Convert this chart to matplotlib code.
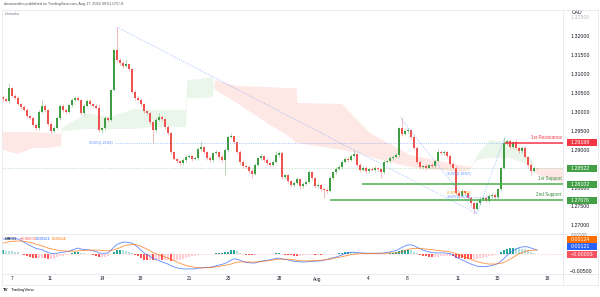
import numpy as np
import matplotlib
matplotlib.use("Agg")
import matplotlib.pyplot as plt
from matplotlib.patches import Rectangle
from matplotlib.lines import Line2D
from matplotlib.transforms import blended_transform_factory

plt.rcParams.update({"font.family": ["Liberation Sans", "DejaVu Sans"]})

# ---------------- data (4h candles, USDCAD) ----------------
OPEN_FIRST = 1.3040
CLOSES = [
    1.3035, 1.3030, 1.3064, 1.3043, 1.3038, 1.3022, 1.3014, 1.3006, 1.2990, 1.2985,
    1.2966, 1.2958, 1.3001, 1.3017, 1.3006, 1.2969, 1.2951, 1.2958, 1.2985, 1.3017,
    1.3006, 1.3001, 1.3019, 1.3032, 1.3038, 1.3032, 1.2998, 1.3017, 1.3030, 1.3022,
    1.3017, 1.3011, 1.2953, 1.2958, 1.2985, 1.2980, 1.3059, 1.3164, 1.3138, 1.3130,
    1.3122, 1.3127, 1.3114, 1.3054, 1.3038, 1.3032, 1.3022, 1.3003, 1.2998, 1.2974,
    1.2953, 1.2980, 1.2988, 1.2982, 1.2961, 1.2945, 1.2895, 1.2877, 1.2871, 1.2866,
    1.2874, 1.2882, 1.2885, 1.2877, 1.2879, 1.2903, 1.2908, 1.2895, 1.2879, 1.2874,
    1.2892, 1.2895, 1.2882, 1.2874, 1.2900, 1.2935, 1.2937, 1.2921, 1.2895, 1.2869,
    1.2858, 1.2856, 1.2845, 1.2837, 1.2861, 1.2879, 1.2885, 1.2874, 1.2866, 1.2861,
    1.2869, 1.2887, 1.2892, 1.2829, 1.2834, 1.2818, 1.2808, 1.2813, 1.2824, 1.2805,
    1.2811, 1.2816, 1.2842, 1.2826, 1.2805, 1.2808, 1.2797, 1.2795, 1.2792, 1.2826,
    1.2842, 1.2850, 1.2856, 1.2869, 1.2877, 1.2874, 1.2885, 1.2890, 1.2861, 1.2848,
    1.2853, 1.2845, 1.2850, 1.2848, 1.2853, 1.2850, 1.2842, 1.2869, 1.2871, 1.2879,
    1.2882, 1.2887, 1.2958, 1.2943, 1.2951, 1.2953, 1.2935, 1.2906, 1.2869, 1.2856,
    1.2858, 1.2853, 1.2861, 1.2858, 1.2871, 1.2895, 1.2892, 1.2895, 1.2885, 1.2863,
    1.2853, 1.2787, 1.2779, 1.2792, 1.2787, 1.2774, 1.2760, 1.2745, 1.2760, 1.2771,
    1.2774, 1.2766, 1.2779, 1.2782, 1.2776, 1.2797, 1.2853, 1.2919, 1.2924, 1.2908,
    1.2921, 1.2906, 1.2898, 1.2906, 1.2882, 1.2861, 1.2845, 1.2853, 1.28522,
]
# wick lengths in pips above the body top / below the body bottom
WICK_UP = [
    3, 4, 13, 3, 4, 5, 3, 4, 6, 3,
    4, 3, 5, 16, 4, 3, 4, 5, 6, 4,
    5, 3, 4, 6, 4, 5, 3, 4, 6, 4,
    3, 5, 10, 4, 5, 3, 2, 2, 61, 6,
    5, 14, 4, 3, 5, 4, 6, 3, 4, 3,
    4, 5, 10, 4, 3, 5, 3, 4, 3, 4,
    5, 4, 6, 3, 5, 4, 15, 3, 4, 5,
    4, 6, 3, 4, 5, 4, 8, 4, 3, 5,
    4, 3, 5, 4, 6, 4, 5, 3, 4, 3,
    4, 12, 5, 5, 4, 3, 4, 5, 6, 3,
    4, 5, 6, 4, 3, 5, 4, 3, 4, 5,
    4, 6, 4, 5, 4, 6, 5, 10, 3, 4,
    5, 4, 3, 5, 4, 3, 4, 5, 4, 6,
    4, 5, 3, 29, 5, 6, 4, 3, 4, 5,
    4, 6, 3, 5, 4, 8, 6, 5, 4, 5,
    5, 4, 6, 5, 4, 3, 4, 3, 5, 6,
    4, 5, 6, 4, 5, 4, 3, 16, 6, 5,
    4, 8, 5, 6, 4, 3, 4, 5, 3,
]
WICK_DN = [
    4, 3, 5, 4, 3, 4, 5, 3, 4, 6,
    3, 5, 4, 3, 5, 4, 6, 4, 3, 5,
    4, 6, 3, 4, 5, 3, 6, 4, 3, 5,
    4, 3, 5, 8, 4, 6, 3, 2, 4, 5,
    4, 3, 5, 4, 6, 3, 5, 4, 6, 4,
    34, 4, 3, 5, 4, 6, 5, 4, 5, 6,
    4, 5, 3, 6, 4, 5, 4, 6, 5, 4,
    5, 3, 6, 4, 40, 4, 3, 5, 4, 6,
    5, 4, 6, 10, 3, 4, 5, 4, 6, 5,
    4, 3, 5, 4, 6, 5, 4, 6, 3, 8,
    5, 4, 3, 6, 5, 4, 6, 21, 4, 3,
    5, 4, 3, 5, 4, 6, 3, 4, 5, 6,
    4, 5, 6, 4, 5, 6, 15, 4, 3, 5,
    4, 3, 4, 5, 4, 6, 5, 4, 6, 5,
    6, 5, 4, 6, 4, 3, 5, 4, 6, 5,
    4, 5, 6, 4, 5, 6, 5, 13, 4, 5,
    6, 4, 5, 6, 4, 5, 4, 3, 5, 6,
    5, 4, 6, 5, 4, 6, 10, 4, 3,
]
# MACD (12, 26, 9) values in units of 1e-4
MACD_LINE = [
    44, 44, 46, 46, 45, 44, 40, 35, 30, 25, 21,
    17, 15, 13, 9, 5, 3, 2, 3, 5, 6,
    7, 9, 12, 15, 18, 15, 14, 13, 12, 10,
    8, 4, 3, 3, 4, 12, 21, 28, 32, 35,
    35, 34, 32, 27, 20, 12, 4, -1, -6, -12,
    -15, -18, -22, -25, -28, -33, -36, -39, -41, -42,
    -42, -42, -42, -42, -40, -39, -38, -38, -37, -36,
    -33, -31, -29, -26, -22, -17, -13, -14, -17, -21,
    -23, -24, -25, -25, -22, -20, -18, -17, -16, -14,
    -12, -11, -13, -15, -16, -18, -20, -21, -22, -22,
    -22, -21, -20, -20, -19, -19, -17, -15, -12, -10,
    -8, -5, -2, 2, 5, 6, 6, 5, 4, 4,
    3, 3, 3, 3, 3, 3, 4, 5, 7, 9,
    11, 15, 20, 24, 27, 27, 25, 20, 16, 12,
    9, 7, 5, 4, 4, 4, 4, 3, 2, -1,
    -8, -12, -16, -20, -24, -28, -31, -34, -35, -35,
    -35, -34, -32, -30, -26, -20, -12, -3, 4, 10,
    15, 19, 21, 22, 21, 18, 15, 12.1,
]
SIGNAL_LINE = [
    32, 34, 36, 37, 38, 38, 38, 37, 36, 34, 32,
    29, 27, 24, 21, 18, 16, 14, 12, 11, 10,
    9, 9, 9, 9, 10, 11, 11, 12, 12, 12,
    12, 12, 11, 10, 10, 11, 13, 16, 19, 23,
    26, 27, 28, 28, 26, 23, 19, 15, 10, 5,
    2, -2, -5, -8, -11, -14, -18, -22, -26, -29,
    -32, -34, -36, -37, -38, -39, -39, -38, -38, -37,
    -36, -35, -33, -32, -30, -28, -25, -23, -22, -22,
    -22, -22, -22, -22, -22, -21, -20, -19, -18, -16,
    -15, -14, -14, -14, -14, -15, -16, -17, -18, -19,
    -19, -19, -19, -18, -18, -17, -16, -15, -14, -12,
    -10, -9, -7, -5, -3, -1, 0, 1, 2, 2,
    2, 2, 2, 2, 3, 3, 3, 3, 4, 4,
    4, 5, 8, 11, 14, 16, 17, 17, 17, 16,
    15, 14, 13, 12, 11, 10, 9, 8, 7, 5,
    2, -1, -4, -7, -11, -14, -18, -21, -23, -25,
    -27, -28, -28, -28, -27, -26, -23, -19, -14, -9,
    -4, 1, 5, 8, 10, 11, 12, 12.4,
]
# Ichimoku cloud (senkou span A / B) read at bar positions
CLOUD_X = [0, 5, 10, 15, 19.3, 19.7, 28, 35.7, 43.7, 49.7, 61, 61.4, 65.7, 70, 70.7,
           78, 88, 94.7, 97.8, 98.2, 113, 118, 122.3, 135.7, 152.3, 155.7, 158,
           162.3, 169, 176.5, 177, 178.3, 186.7]
SPAN_A = [1.29004, 1.28898, 1.29056, 1.29056, 1.29109, 1.29584, 1.29980, 1.29875,
          1.30086, 1.30060, 1.30060, 1.30852, 1.30878, 1.30931, 1.30588, 1.30244,
          1.29716, 1.29400, 1.29188, 1.29188, 1.29004, 1.28924, 1.28819, 1.28555,
          1.28423, 1.28476, 1.28872, 1.29268, 1.29214, 1.28740, 1.28476, 1.28344,
          1.28132]
SPAN_B = [1.29479, 1.29479, 1.29479, 1.29452, 1.29426, 1.29505, 1.29558, 1.29558,
          1.29558, 1.29611, 1.29611, 1.30376, 1.30376, 1.30403, 1.30852, 1.30693,
          1.30667, 1.30641, 1.30641, 1.30244, 1.30218, 1.29796, 1.29452, 1.28872,
          1.28608, 1.28555, 1.28740, 1.28792, 1.28792, 1.28581, 1.28528, 1.28528,
          1.28528]

TICK_POS = [3, 15.7, 33, 45.7, 62.3, 75, 92.3, 104.7, 121.7, 134.7, 151.7, 164.7, 181.3]
TICK_LABELS = ['7', '11', '14', '18', '21', '25', '28', 'Aug', '4', '8', '11', '15', '18']
PRICE_TICKS = [1.270, 1.275, 1.280, 1.285, 1.290, 1.295, 1.300, 1.305, 1.310, 1.315, 1.320]

RESISTANCE_1 = 1.29198
SUPPORT_1 = 1.28102
SUPPORT_2 = 1.27676
FIB_LEVEL = 1.29182
# drawn trend lines: (bar, price) -> (bar, price)
TREND_LINES = [((38, 1.3225), (158, 1.2732)),
               ((132.3, 1.2987), (158, 1.2732)),
               ((158, 1.2732), (167.3, 1.2935))]

assert len(CLOSES) == len(WICK_UP) == len(WICK_DN) == len(MACD_LINE) == len(SIGNAL_LINE)
assert len(CLOUD_X) == len(SPAN_A) == len(SPAN_B)

GREEN = '#3f9e43'
RED = '#ef5350'
BLUE = '#2962ff'
ORANGE = '#ff6d00'
TXT = '#131722'
GRID = '#e0e3eb'

W, H = 600, 297
fig = plt.figure(figsize=(6, 2.97), dpi=100)
fig.patch.set_facecolor('white')


def fx(px):
    return px / W


def fy(py):
    return 1 - py / H


XLIM = (-0.33, 186.67)
PLIM = (1.26786, 1.32700)
MLIM = (-0.00566, 0.00583)

ax = fig.add_axes([fx(2), fy(234), fx(563) - fx(2), fy(10) - fy(234)])
ax_p = fig.add_axes([fx(563), fy(234), fx(600) - fx(563), fy(10) - fy(234)])
ax_m = fig.add_axes([fx(2), fy(274), fx(563) - fx(2), fy(234) - fy(274)])
ax_mp = fig.add_axes([fx(563), fy(274), fx(600) - fx(563), fy(234) - fy(274)])
for a in (ax, ax_m):
    a.set_xlim(*XLIM)
    a.axis('off')
for a in (ax_p, ax_mp):
    a.set_xlim(0, 1)
    a.axis('off')
ax.set_ylim(*PLIM)
ax_p.set_ylim(*PLIM)
ax_m.set_ylim(*MLIM)
ax_mp.set_ylim(*MLIM)

# ---------------- ichimoku cloud ----------------
cx = np.array(CLOUD_X)
sa = np.array(SPAN_A)
sb = np.array(SPAN_B)
ax.fill_between(cx, sa, sb, where=sa >= sb, interpolate=True, color='#4caf50', alpha=0.11, lw=0, zorder=1)
ax.fill_between(cx, sa, sb, where=sa < sb, interpolate=True, color='#f44336', alpha=0.12, lw=0, zorder=1)

# ---------------- candles ----------------
closes = np.array(CLOSES)
opens = np.concatenate([[OPEN_FIRST], closes[:-1]])
idx = np.arange(len(closes))
tops = np.maximum(opens, closes)
bots = np.minimum(opens, closes)
highs = tops + np.array(WICK_UP) * 1e-4
lows = bots - np.array(WICK_DN) * 1e-4
cols = np.where(closes >= opens, GREEN, RED)
ax.vlines(idx, lows, highs, colors=cols, lw=0.6, alpha=0.45, zorder=3)
ax.bar(idx, np.maximum(tops - bots, 0.00007), bottom=bots, width=0.75, color=cols, lw=0, zorder=4)

# current price line
ax.axhline(closes[-1], color=GREEN, lw=0.5, ls=(0, (2, 2)), alpha=0.4, zorder=2)

# ---------------- drawings ----------------
for (x0, y0), (x1, y1) in TREND_LINES:
    ax.plot([x0, x1], [y0, y1], color='#5b8cff', lw=0.6, ls=(0, (1.2, 1.6)), alpha=0.6, zorder=5)
ax.hlines(FIB_LEVEL, 37.3, 167.3, colors='#5b8cff', lw=0.6, linestyles=[(0, (1.2, 1.6))], alpha=0.6, zorder=5)
ax.text(36.7, FIB_LEVEL, "38.20%(1.29182)", fontsize=2.3, color='#5b8cff', ha='right', va='center', zorder=6)
ax.text(148, 1.28357, "38.20%(1.28357)", fontsize=2.3, color='#5b8cff', ha='left', va='center', zorder=6)
ax.text(148, 1.27869, "61.80%(1.27869)", fontsize=2.3, color='#f5a623', ha='left', va='center', zorder=6)
ax.text(148, 1.27763, "78.60%(1.27763)", fontsize=2.3, color='#5b8cff', ha='left', va='center', zorder=6)
ax.hlines(1.27763, 155, 166, colors='#5b8cff', lw=0.6, linestyles=[(0, (1.2, 1.6))], alpha=0.6, zorder=5)

ax.hlines(RESISTANCE_1, 167.3, XLIM[1], colors='#f23645', lw=1.1, zorder=6)
ax.hlines(SUPPORT_1, 119.7, XLIM[1], colors='#4caf50', lw=1.1, zorder=6)
ax.hlines(SUPPORT_2, 109, XLIM[1], colors='#4caf50', lw=1.1, zorder=6)
ax.text(186.2, RESISTANCE_1 + 0.0008, "1st Resistance", fontsize=3.3, color='#f23645', ha='right', va='bottom', zorder=7)
ax.text(186.2, SUPPORT_1 + 0.0008, "1st Support", fontsize=3.3, color='#388e3c', ha='right', va='bottom', zorder=7)
ax.text(186.2, SUPPORT_2 + 0.0008, "2nd Support", fontsize=3.3, color='#388e3c', ha='right', va='bottom', zorder=7)

# ---------------- price scale ----------------
for v in PRICE_TICKS:
    ax_p.text(0.216, v, f"{v:.5f}", fontsize=3.8, color=TXT, va='center', ha='left', zorder=1)
ax_p.text(0.216, 1.325, "1.32500", fontsize=3.8, color=TXT, va='center', ha='left', alpha=0.3)
ax_p.text(0.24, 0.987, "CAD", fontsize=3.6, color=TXT, va='center', ha='left', transform=ax_p.transAxes)


def tag(a, y, h, label, color):
    a.add_patch(Rectangle((0.108, y - h / 2), 0.81, h, color=color, lw=0, zorder=5, clip_on=False))
    a.text(0.216, y, label, fontsize=3.8, color='white', va='center', ha='left', zorder=6, clip_on=False)


ph = 7 * (PLIM[1] - PLIM[0]) / 224
tag(ax_p, RESISTANCE_1, ph, f"{RESISTANCE_1:.5f}", '#f23645')
tag(ax_p, closes[-1], ph, f"{closes[-1]:.5f}", '#43a047')
tag(ax_p, SUPPORT_1, ph, f"{SUPPORT_1:.5f}", '#43a047')
tag(ax_p, SUPPORT_2, ph, f"{SUPPORT_2:.5f}", '#43a047')

# ---------------- MACD pane ----------------
macd = np.array(MACD_LINE) * 1e-4
sig = np.array(SIGNAL_LINE) * 1e-4
hist = macd - sig
prev = np.concatenate([[hist[0]], hist[:-1]])
hcol = np.where(hist >= 0,
                np.where(hist >= prev, '#26a69a', '#b2dfdb'),
                np.where(hist < prev, '#ff5252', '#ffcdd2'))
ax_m.bar(idx, hist, width=0.75, color=hcol, lw=0, zorder=2)
ax_m.axhline(hist[-1], color='#ff5252', lw=0.5, ls=(0, (1.5, 2)), alpha=0.4, zorder=1)
ax_m.plot(idx, macd, color=BLUE, lw=0.6, alpha=0.75, zorder=3)
ax_m.plot(idx, sig, color=ORANGE, lw=0.6, alpha=0.75, zorder=3)

# top scale label sits mostly behind the MACD value tags, as on the reference
ax_mp.text(0.216, 0.00545, "0.00500", fontsize=3.4, color=TXT, va='center', ha='left', alpha=0.6)
ax_mp.text(0.19, -0.005, "\u22120.00500", fontsize=3.8, color=TXT, va='center', ha='left')
mh = 7 * (MLIM[1] - MLIM[0]) / 40
gap = 7.5 * (MLIM[1] - MLIM[0]) / 40
last_y = None
for val, colr in sorted([(hist[-1], '#f7525f'), (macd[-1], BLUE), (sig[-1], ORANGE)]):
    yy = val if last_y is None else max(val, last_y + gap)
    lbl = f"{val:.5f}".replace('-', '\u2212')
    tag(ax_mp, yy, mh, lbl, colr)
    last_y = yy

# MACD legend
fig.text(fx(5), fy(239), "MACD", fontsize=3.0, color=TXT, va='center', ha='left')
fig.text(fx(20), fy(239), f"{hist[-1]:.5f}".replace('-', '\u2212'), fontsize=3.0, color='#ff5252', va='center')
fig.text(fx(36), fy(239), f"{macd[-1]:.5f}", fontsize=3.0, color=BLUE, va='center')
fig.text(fx(52), fy(239), f"{sig[-1]:.5f}", fontsize=3.0, color=ORANGE, va='center')

# ---------------- time axis ----------------
tt = blended_transform_factory(ax_m.transData, fig.transFigure)
for p, lab in zip(TICK_POS, TICK_LABELS):
    ax_m.text(p, fy(279), lab, fontsize=3.4, color=TXT, ha='center', va='center', transform=tt, clip_on=False)

# ---------------- frame and header ----------------
for y in (9.5, 234, 274, 285):
    fig.add_artist(Line2D([fx(2), fx(598)], [fy(y), fy(y)], color=GRID, lw=0.5))
for x in (2, 598):
    fig.add_artist(Line2D([fx(x), fx(x)], [fy(9.5), fy(285)], color=GRID, lw=0.5))
fig.add_artist(Line2D([fx(563), fx(563)], [fy(9.5), fy(285)], color=GRID, lw=0.5))

fig.text(fx(4), fy(4.5), "desmondleo published on TradingView.com, Aug 17, 2022 09:51 UTC-8",
         fontsize=2.7, color='#50535e', va='center', ha='left')
fig.text(fx(5), fy(14), "Ichimoku", fontsize=2.7, color='#787b86', va='center', ha='left')
fig.text(fx(3), fy(290), "TV", fontsize=3.2, color=TXT, weight='bold', va='center', ha='left')
fig.text(fx(11), fy(290), "TradingView", fontsize=3.2, color=TXT, va='center', ha='left')

fig.savefig('out.png', dpi=100, facecolor='white')
